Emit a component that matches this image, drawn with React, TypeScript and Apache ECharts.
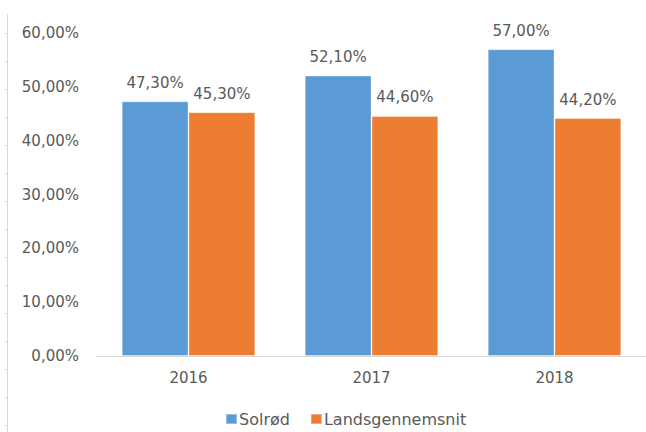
import React, { useEffect, useRef } from "react";
import * as echarts from "echarts";

const categories = ["2016", "2017", "2018"];
const solrod = [47.3, 52.1, 57.0];
const landsgennemsnit = [45.3, 44.6, 44.2];
const seriesNames = ["Solrød", "Landsgennemsnit"];
const colors = ["#5B9BD5", "#ED7D31"];

const fmt = (v: number) => v.toFixed(2).replace(".", ",") + "%";
const FONT = "DejaVu Sans";
const TXT = "#595959";

export default function App() {
  const ref = useRef<HTMLDivElement>(null);
  useEffect(() => {
    document.body.style.margin = "0";
    const chart = echarts.init(ref.current!, null, { renderer: "svg" });
    const ticks: any[] = [];
    for (let k = 0; k < 15; k++) {
      const y = 33.5 + 28 * k;
      ticks.push({
        type: "line",
        shape: { x1: 4.5, y1: y, x2: 7.5, y2: y },
        style: { stroke: "#D9D9D9", lineWidth: 1 },
        silent: true,
      });
    }
    chart.setOption({
      animation: false,
      backgroundColor: "#ffffff",
      textStyle: { fontFamily: FONT },
      grid: { left: 97, right: -3, top: 33, bottom: 76, containLabel: false },
      legend: {
        left: 220,
        top: 406,
        itemWidth: 11,
        itemHeight: 10,
        itemGap: 20,
        icon: "rect",
        textStyle: { fontFamily: FONT, fontSize: 16, color: TXT, padding: [0, 0, 0, -3] },
        data: seriesNames,
      },
      xAxis: {
        type: "category",
        data: categories,
        axisLine: { lineStyle: { color: "#D9D9D9", width: 1 } },
        axisTick: { show: false },
        axisLabel: { fontFamily: FONT, fontSize: 15, color: TXT, margin: 14 },
      },
      yAxis: {
        type: "value",
        min: 0,
        max: 60,
        interval: 10,
        splitLine: { show: false },
        axisLine: { show: false },
        axisTick: { show: false },
        axisLabel: { fontFamily: FONT, fontSize: 15, color: TXT, margin: 18, formatter: (v: number) => fmt(v) },
      },
      series: [
        {
          name: seriesNames[0],
          type: "bar",
          data: solrod,
          barGap: "0%",
          barCategoryGap: "27%",
          itemStyle: { color: colors[0], borderColor: "rgba(255,255,255,0.35)", borderWidth: 1 },
          label: { show: true, position: "top", distance: 11, fontFamily: FONT, fontSize: 15, color: TXT, formatter: (p: any) => fmt(p.value) },
        },
        {
          name: seriesNames[1],
          type: "bar",
          data: landsgennemsnit,
          barGap: "0%",
          barCategoryGap: "27%",
          itemStyle: { color: colors[1], borderColor: "rgba(255,255,255,0.35)", borderWidth: 1 },
          label: { show: true, position: "top", distance: 11, fontFamily: FONT, fontSize: 15, color: TXT, formatter: (p: any) => fmt(p.value) },
        },
      ],
      graphic: [
        {
          type: "line",
          shape: { x1: 7.5, y1: 14, x2: 7.5, y2: 432 },
          style: { stroke: "#D9D9D9", lineWidth: 1 },
          silent: true,
        },
        ...ticks,
      ],
    });
    return () => chart.dispose();
  }, []);
  return <div ref={ref} style={{ width: 646, height: 432 }} />;
}
